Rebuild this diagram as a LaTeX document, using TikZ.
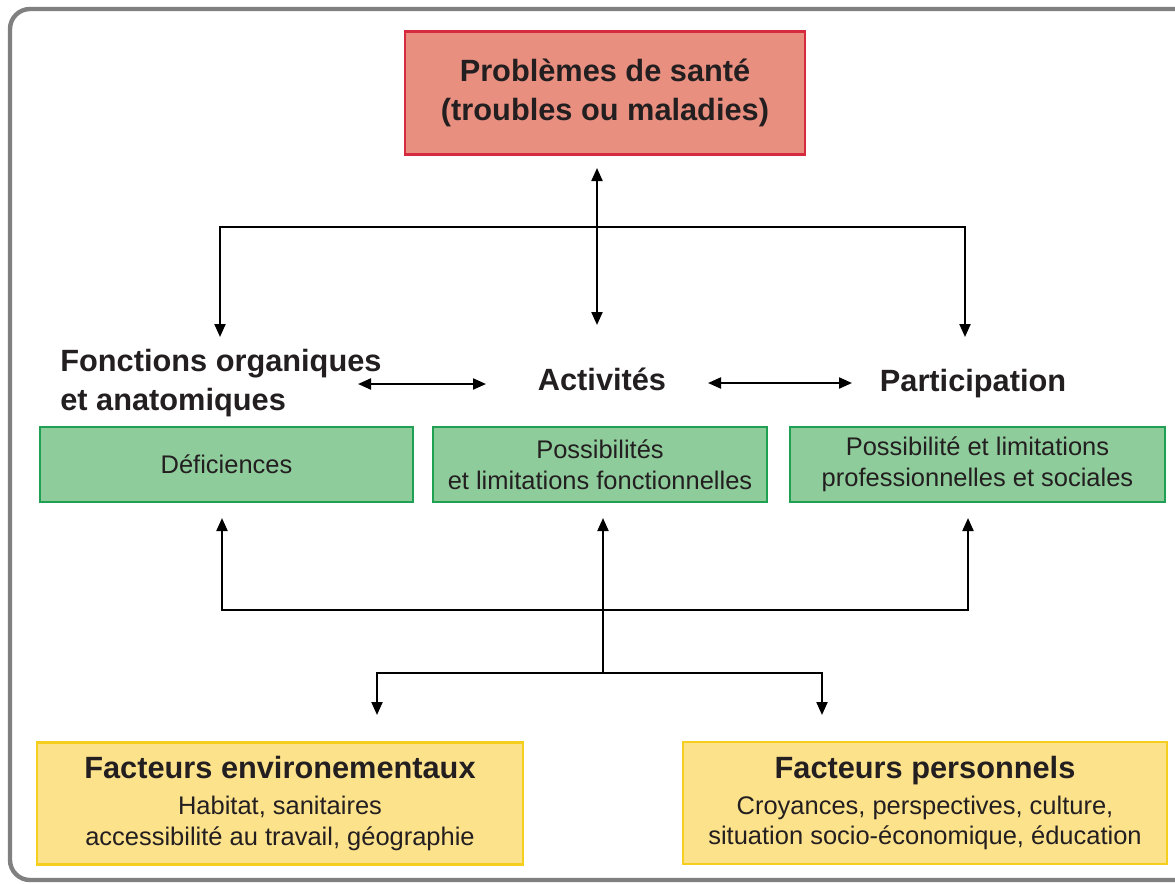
\documentclass[tikz,border=0pt]{standalone}
\usepackage{fontspec}
\setmainfont{Liberation Sans}
\usetikzlibrary{arrows.meta}
\definecolor{rouge}{RGB}{214,42,62}
\definecolor{rougeclair}{RGB}{232,143,128}
\definecolor{vert}{RGB}{32,160,82}
\definecolor{vertclair}{RGB}{143,204,155}
\definecolor{jaune}{RGB}{246,206,30}
\definecolor{jauneclair}{RGB}{253,226,140}
\definecolor{texte}{RGB}{35,31,32}
\tikzset{
  >={Triangle[length=0.26cm,width=0.22cm]},
  fleche/.style={line width=1.2pt},
  boite/.style={draw, line width=1.4pt, align=center, inner sep=0pt, text=texte},
  titre/.style={font=\bfseries\fontsize{17.5}{22.5}\selectfont, text=texte, inner sep=0pt},
  corps/.style={font=\fontsize{14.5}{17.5}\selectfont},
  boiterouge/.style={boite, draw=rouge, fill=rougeclair, minimum width=8cm, minimum height=2.46cm, titre},
  boiteverte/.style={boite, draw=vert, fill=vertclair, minimum height=1.5cm, corps},
  boitejaune/.style={boite, draw=jaune, fill=jauneclair, minimum height=2.44cm, corps}
}
\begin{document}
\begin{tikzpicture}[x=0.02cm,y=-0.02cm]
  \useasboundingbox (0,0) rectangle (1175,883);
  \draw[line width=2.5pt, color=gray, rounded corners=0.4cm] (10,9) rectangle (1200,880);

  \node[boiterouge] (sante) at (605,93) {Problèmes de santé\\(troubles ou maladies)};

  \node[titre, anchor=west, align=left] (fonctions) at (60,383) {Fonctions organiques\\et anatomiques};
  \node[titre, anchor=base] (activites) at (602,390) {Activités};
  \node[titre, anchor=base] (participation) at (973,391) {Participation};

  \node[boiteverte, minimum width=7.46cm] (deficiences) at (226.5,464.5) {Déficiences};
  \node[boiteverte, minimum width=6.68cm] (possibilites) at (600,464.5) {Possibilités\\et limitations fonctionnelles};
  \node[boiteverte, minimum width=7.5cm] (limitations) at (977.5,464.5) {Possibilité et limitations\\professionnelles et sociales};

  \node[boitejaune, minimum width=9.72cm] (envir) at (280,803.5) {{\bfseries\fontsize{17.5}{21}\selectfont Facteurs environementaux}\\[3pt]Habitat, sanitaires\\accessibilité au travail, géographie};
  \node[boitejaune, minimum width=9.68cm] (perso) at (925,803) {{\bfseries\fontsize{17.5}{21}\selectfont Facteurs personnels}\\[3pt]Croyances, perspectives, culture,\\situation socio-économique, éducation};

  \coordinate (h1) at (597,168);
  \coordinate (h2) at (597,325);
  \coordinate (fg) at (220,337);
  \coordinate (jd) at (965,227);
  \coordinate (fd) at (965,337);
  \coordinate (a1) at (358,384);
  \coordinate (a2) at (486,384);
  \coordinate (a3) at (708,383);
  \coordinate (a4) at (852,383);
  \coordinate (ug) at (222,518);
  \coordinate (um) at (603,518);
  \coordinate (ud) at (968,518);
  \coordinate (bd) at (968,610);
  \coordinate (mb) at (603,673);
  \coordinate (eg) at (377,715);
  \coordinate (jb) at (822,673);
  \coordinate (ed) at (822,715);

  \draw[fleche,<->] (h1) -- (h2);
  \draw[fleche,<->] (fg) |- (jd) -- (fd);
  \draw[fleche,<->] (a1) -- (a2);
  \draw[fleche,<->] (a3) -- (a4);
  \draw[fleche,<->] (ug) |- (bd) -- (ud);
  \draw[fleche,->] (mb) -- (um);
  \draw[fleche,<->] (eg) |- (jb) -- (ed);
\end{tikzpicture}
\end{document}
